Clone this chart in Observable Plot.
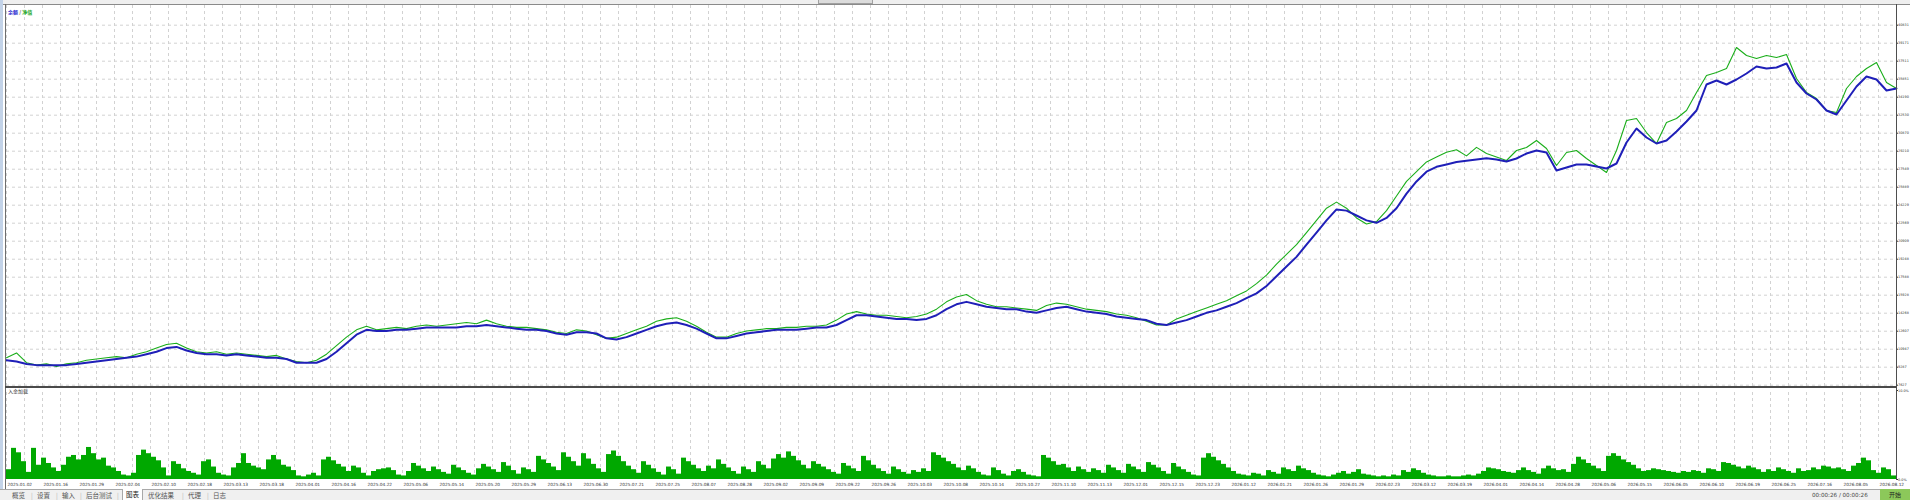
<!DOCTYPE html>
<html><head><meta charset="utf-8">
<script src="https://cdn.jsdelivr.net/npm/d3@7"></script>
<script src="https://cdn.jsdelivr.net/npm/@observablehq/plot@0.6"></script>
<style>
html,body{margin:0;padding:0;width:1910px;height:500px;overflow:hidden;background:#fff;font-family:"DejaVu Sans",sans-serif;}
#wrap{position:relative;width:1910px;height:500px;overflow:hidden;}
.abs{position:absolute;}
#main{position:absolute;left:0;top:5px;}
#sub{position:absolute;left:0;top:387px;}
#legend{position:absolute;left:8px;top:9px;font-family:"Noto Sans CJK SC",sans-serif;font-size:5px;line-height:6px;font-weight:bold;}
#loadlbl{position:absolute;left:8px;top:388px;font-family:"Noto Sans CJK SC",sans-serif;font-size:5px;line-height:6px;color:#333;}
#tabs{position:absolute;left:0;top:489px;width:1910px;height:11px;background:#f0f0f0;border-top:1px solid #a8a8a8;box-sizing:border-box;font-family:"Noto Sans CJK SC",sans-serif;font-size:6.5px;color:#555;}
#tabs span{position:absolute;top:1px;line-height:9px;}
#tabs .sep{color:#b0b0b0;}
#tabs .sel{background:#fff;border:1px solid #a8a8a8;border-top:none;top:-1px;height:11px;line-height:10px;padding:0 3px;color:#222;}
#timer{position:absolute;left:1812px;top:491px;font-size:5.6px;line-height:9px;color:#444;font-family:"DejaVu Sans",sans-serif;}
#start{position:absolute;left:1880px;top:489px;width:30px;height:11px;background:#8cc85a;font-family:"Noto Sans CJK SC",sans-serif;font-size:6px;line-height:11px;text-align:center;color:#222;}
</style></head><body>
<div id="wrap">
  <div class="abs" style="left:0;top:0;width:1910px;height:4px;background:#efefef;"></div>
  <div class="abs" style="left:818px;top:0;width:53px;height:3px;background:#dcdcdc;border:1px solid #a0a0a0;border-top:none;"></div>
  <div class="abs" style="left:0;top:4px;width:1910px;height:1px;background:#8a8a8a;"></div>
  <div id="main"></div>
  <div id="sub"></div>
  <div class="abs" style="left:0;top:0;width:3px;height:489px;background:#c3d3e8;"></div>
  <div class="abs" style="left:5px;top:4px;width:1px;height:485px;background:#6e6e6e;"></div>
  <div class="abs" style="left:1896px;top:4px;width:1px;height:476px;background:#4e4e4e;"></div>
  <div class="abs" style="left:5px;top:386px;width:1892px;height:2px;background:#4a4a4a;"></div>
  <div id="legend"><span style="color:#2a2ad0">余额</span><span style="color:#666"> / </span><span style="color:#1ca81c">净值</span></div>
  <div id="loadlbl">入金加载</div>
  <div id="tabs"></div>
  <div id="timer">00:00:26 / 00:00:26</div>
  <div id="start">开始</div>
</div>
<script>
// ---- data ----
const balance = [9927,9815,9591,9478,9478,9478,9478,9591,9703,9815,
 9927,10039,10152,10264,10488,10713,11049,11161,10825,10600,
 10488,10488,10376,10488,10376,10264,10152,10152,10039,9703,
 9703,9703,10039,10713,11498,12283,12732,12620,12620,12732,
 12732,12844,12957,12957,12957,12957,13069,13069,13181,13069,
 12957,12844,12732,12732,12620,12396,12283,12508,12508,12396,
 11947,11835,12059,12396,12732,13069,13293,13405,13181,12844,
 12396,11947,11947,12171,12396,12508,12620,12732,12732,12732,
 12844,12957,12957,13181,13630,14079,14079,13966,13854,13742,
 13742,13630,13742,14079,14640,15088,15313,15088,14864,14752,
 14640,14640,14415,14303,14527,14752,14864,14640,14415,14303,
 14191,13966,13854,13742,13630,13293,13181,13405,13630,13966,
 14303,14527,14864,15201,15649,16098,16771,17669,18567,19464,
 20586,21708,22830,23840,23728,23279,22830,22606,23055,23952,
 25299,26421,27318,27767,27991,28216,28328,28440,28552,28440,
 28259,28535,28997,29273,29089,27429,27705,27982,27982,27798,
 27613,28074,30011,31303,30472,29919,30196,31026,31948,32963,
 35361,35730,35361,35822,36375,37021,36836,36928,37297,35545,
 34531,33977,32963,32594,33885,35176,36098,35822,34807,34992];

const equity = [10152,10600,9703,9478,9591,9366,9591,9703,9927,10039,
 10152,10264,10152,10488,10713,11049,11386,11498,11049,10713,
 10600,10713,10488,10600,10488,10376,10264,10376,10039,9815,
 9703,9927,10488,11274,12059,12732,13069,12732,12844,12957,
 12844,13069,13181,13069,13181,13293,13405,13293,13630,13293,
 13069,12957,12957,12844,12732,12508,12396,12732,12620,12283,
 11947,12059,12396,12732,13069,13518,13742,13854,13518,13069,
 12508,12059,12059,12396,12620,12732,12844,12844,12957,12957,
 13069,13069,13181,13630,14191,14415,14191,14079,14079,13966,
 13854,13966,14191,14640,15313,15762,15986,15425,15088,14864,
 14864,14752,14640,14527,14976,15201,15088,14864,14640,14527,
 14415,14191,14079,13854,13518,13181,13181,13742,14079,14415,
 14752,15088,15425,15874,16323,16996,17781,18791,19689,20586,
 21708,22830,23952,24513,23952,23055,22494,22718,23728,25074,
 26421,27318,28216,28665,29113,29338,28777,29562,29001,28665,
 28351,29273,29550,30196,29458,27890,29089,29273,28535,27890,
 27244,29273,32040,32225,30933,29919,31856,32225,32963,34623,
 36191,36467,36836,38773,38035,37759,38035,37851,38128,35914,
 34623,34069,32963,32778,34992,36098,36836,37390,35545,34992];

const depositLoad = [1.1,3.5,3.0,2.0,0.8,3.5,1.6,2.4,1.8,1.3,
 0.9,1.6,2.5,2.7,2.2,2.7,3.6,2.9,2.2,2.4,
 1.5,1.3,0.9,0.5,0.4,0.7,2.7,3.3,2.9,2.5,
 2.1,1.3,0.4,2.0,1.7,1.2,0.9,0.7,0.5,2.0,
 2.2,1.4,0.7,0.5,0.4,1.3,1.8,2.9,1.8,1.5,
 1.3,1.1,2.2,2.7,2.2,1.6,1.4,1.0,0.4,0.3,
 0.5,0.7,0.4,2.2,2.5,2.1,1.7,1.4,0.9,1.5,
 1.3,0.7,0.4,0.9,1.1,1.2,1.3,1.0,0.5,
 0.4,0.9,1.8,1.5,1.2,0.9,1.4,1.1,
 0.8,0.6,1.6,1.3,1.0,0.7,0.5,1.2,
 1.7,1.4,1.1,0.8,1.9,1.5,1.0,0.6,
 1.3,1.1,0.8,2.6,2.2,1.8,1.4,1.0,
 3.0,2.5,2.0,1.5,2.9,2.3,1.7,1.2,
 0.8,2.8,3.2,2.6,2.0,1.5,1.1,0.7,
 2.0,1.6,1.2,0.8,0.5,1.4,1.1,0.6,
 2.4,2.0,1.6,1.2,0.9,1.5,1.2,2.2,
 1.7,1.3,0.9,0.6,1.4,1.1,0.8,2.0,
 1.6,1.2,2.3,2.8,2.4,3.1,2.6,2.1,
 1.6,1.2,2.0,1.7,1.4,1.1,0.8,0.6,
 1.8,1.5,1.2,0.9,2.6,2.1,1.6,1.2,
 0.9,0.6,1.4,1.1,0.8,0.6,1.0,0.8,
 1.2,0.9,3.0,2.7,2.4,2.0,1.7,1.3,
 1.0,1.5,1.2,0.8,0.5,0.4,1.3,1.0,
 0.6,0.4,0.9,1.1,0.8,0.5,0.4,0.3,
 2.7,2.4,2.0,1.6,1.7,1.3,0.9,1.4,
 1.1,0.8,1.2,1.0,0.7,1.6,1.3,1.0,
 0.7,1.7,1.4,1.1,0.8,1.9,1.6,1.3,
 0.9,0.6,1.8,1.4,1.1,0.8,0.5,0.4,
 2.4,2.9,2.5,2.1,1.7,1.3,0.9,0.6,
 0.5,0.4,0.7,0.6,0.4,1.0,0.8,0.6,
 1.3,1.1,0.9,1.5,1.2,1.0,0.7,0.5,
 0.4,0.3,0.5,0.7,0.9,0.6,0.8,1.1,
 0.6,0.5,0.4,0.3,0.4,0.3,0.5,0.4,
 1.0,0.8,1.2,1.0,0.7,0.5,0.4,0.3,
 0.3,0.4,0.3,0.3,0.4,0.5,0.4,0.6,
 0.9,1.3,1.2,1.1,0.9,0.8,0.7,1.0,
 1.3,1.0,0.8,0.6,1.2,1.5,1.2,1.0,
 1.1,0.8,1.7,2.5,2.2,1.8,1.5,1.2,
 0.9,2.6,2.9,2.6,2.2,1.9,1.6,1.2,
 0.9,1.0,1.2,1.1,1.0,0.9,0.8,0.7,
 0.9,0.8,1.0,0.9,0.7,1.2,1.1,0.9,
 1.9,1.8,1.6,1.4,1.2,1.5,1.3,1.1,
 0.8,1.1,0.9,1.3,1.1,0.9,0.7,1.2,
 0.9,1.0,1.3,1.1,1.5,1.4,1.2,1.3,
 1.1,0.9,1.5,1.8,2.4,2.1,1.0,0.7,
 1.3,1.1,0.4];

const dateLabels = ["2025.01.02","2025.01.16","2025.01.29","2025.02.04","2025.02.10","2025.02.18","2025.03.13","2025.03.18","2025.04.01","2025.04.16",
 "2025.04.22","2025.05.06","2025.05.14","2025.05.20","2025.05.29","2025.06.13","2025.06.30","2025.07.21","2025.07.25","2025.08.07",
 "2025.08.28","2025.09.02","2025.09.09","2025.09.22","2025.09.26","2025.10.03","2025.10.08","2025.10.14","2025.10.27","2025.11.10",
 "2025.11.13","2025.12.01","2025.12.15","2025.12.23","2026.01.12","2026.01.21","2026.01.26","2026.01.29","2026.02.23","2026.03.12",
 "2026.03.19","2026.04.01","2026.04.14","2026.04.28","2026.05.06","2026.05.15","2026.06.05","2026.06.10","2026.06.19","2026.06.25",
 "2026.07.16","2026.08.05","2026.08.12"];

const yTicks = [7627,9287,10947,12607,14268,15928,17588,19248,20909,22569,24229,25889,27549,29210,30870,32530,34190,35851,37511,39171,40831];
const loadTicks = [0, 10];
const tabNames = ["概览","设置","输入","后台测试","图表","优化结果","代理","日志"];

// ---- layout helpers ----
const N = balance.length;              // deals along x
const xDom = [0, N - 1];
const gridStep = (N - 1) / 105;        // 105 grid cells across the panel
const gridX = d3.range(0, 106).map(k => k * gridStep);
const labelX = dateLabels.map((_, k) => k * 2 * gridStep);
const gridColor = "#d2d2d2";
const axisFont = 3.4;

const main = Plot.plot({
  width: 1910, height: 382,
  marginLeft: 6, marginRight: 14, marginTop: 0, marginBottom: 0,
  x: {domain: xDom, range: [6, 1896], axis: null},
  y: {domain: [yTicks[0], yTicks[yTicks.length - 1]], range: [379.7, 19.7], axis: null},
  style: {overflow: "hidden", background: "transparent", fontFamily: "DejaVu Sans"},
  marks: [
    Plot.ruleX(gridX, {stroke: gridColor, strokeDasharray: "3,3", strokeWidth: 1}),
    Plot.ruleY(yTicks, {stroke: gridColor, strokeDasharray: "3,3", strokeWidth: 1}),
    Plot.lineY(equity, {x: (d, i) => i, y: d => d, stroke: "#1aae1a", strokeWidth: 1.1}),
    Plot.lineY(balance, {x: (d, i) => i, y: d => d, stroke: "#1f1fb8", strokeWidth: 2}),
    Plot.axisY(yTicks, {anchor: "right", tickSize: 1, tickPadding: 0.5, fontSize: axisFont, color: "#333", tickFormat: d => String(d)})
  ]
});
document.getElementById("main").appendChild(main);

const sub = Plot.plot({
  width: 1910, height: 102,
  marginLeft: 6, marginRight: 14, marginTop: 0, marginBottom: 10,
  x: {domain: xDom, range: [6, 1896], axis: null},
  y: {domain: [0, 10], range: [92, 3], axis: null},
  style: {overflow: "hidden", background: "transparent", fontFamily: "DejaVu Sans"},
  marks: [
    Plot.ruleX(gridX, {stroke: gridColor, strokeDasharray: "3,3", strokeWidth: 1, y1: 0, y2: 10}),
    Plot.rect(depositLoad, {x1: (d, i) => i * (N - 1) / depositLoad.length, x2: (d, i) => (i + 1) * (N - 1) / depositLoad.length, y1: 0, y2: d => d, fill: "#00a800"}),
    Plot.axisY(loadTicks, {anchor: "right", tickSize: 1, tickPadding: 0.5, fontSize: axisFont, color: "#333", tickFormat: d => d.toFixed(1) + "%"}),
    Plot.axisX(labelX, {anchor: "bottom", tickSize: 0, tickPadding: 3, fontSize: 4.3, color: "#333", textAnchor: "start", dx: 1, tickFormat: d => dateLabels[Math.round(d / (2 * gridStep))]})
  ]
});
document.getElementById("sub").appendChild(sub);

// tabs row
const tabs = document.getElementById("tabs");
const tabX = [12, 37, 62, 86, 122, 148, 188, 213];
const sepX = [31, 56, 80, 117, 182, 207];
tabNames.forEach((t, i) => {
  const s = document.createElement("span");
  s.textContent = t;
  s.style.left = tabX[i] + "px";
  if (t === "图表") s.className = "sel";
  tabs.appendChild(s);
});
sepX.forEach(x => {
  const s = document.createElement("span");
  s.className = "sep"; s.textContent = "|"; s.style.left = x + "px";
  tabs.appendChild(s);
});
</script>
</body></html>
